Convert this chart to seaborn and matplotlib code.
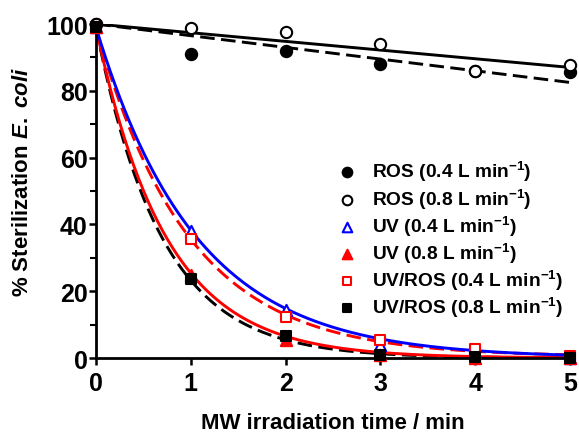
import numpy as np
import pandas as pd
import matplotlib
matplotlib.use("Agg")
import matplotlib.pyplot as plt
import seaborn as sns

# data
time = [0, 1, 2, 3, 4, 5]
ros_04 = [100, 91, 92, 88, 86, 85.5]
ros_08 = [100, 98.8, 97.5, 94, 86, 87.6]
uv_04 = [99, 38, 14.3, 4, 1.5, 0]
uv_08 = [99, 24.8, 5.5, 0.8, 0, 0]
uvros_04 = [99, 35.5, 12.3, 5.5, 2.6, 0.5]
uvros_08 = [99, 23.8, 6.5, 1.0, 0.3, 0]

# fitted curve parameters
ros_fit_04 = (100, -3.5)          # intercept, slope (dashed)
ros_fit_08 = (100, -2.6)          # intercept, slope (solid)
uv_fit_04 = (99, 0.95, 0.0)       # A, k, offset
uv_fit_08 = (99, 1.36, 0.0)
uvros_fit_04 = (98.5, 1.03, 0.4)
uvros_fit_08 = (99, 1.45, 0.0)

sns.set_style("ticks")
plt.rcParams["font.family"] = ["Liberation Sans", "DejaVu Sans"]
plt.rcParams["font.weight"] = "bold"
plt.rcParams["mathtext.fontset"] = "custom"
plt.rcParams["mathtext.rm"] = "Liberation Sans:bold"
plt.rcParams["mathtext.bf"] = "Liberation Sans:bold"
plt.rcParams["mathtext.it"] = "Liberation Sans:bold:italic"
for k in ["text.color", "axes.labelcolor", "xtick.color", "ytick.color",
          "axes.edgecolor"]:
    plt.rcParams[k] = "black"

fig = plt.figure(figsize=(5.79, 4.35), dpi=100)
ax = fig.add_axes([0.1658, 0.1747, 0.8187, 0.7678])

t = np.linspace(0, 5, 200)
lw = 2.1


def lin(p):
    return p[0] + p[1] * t


def expo(p):
    return p[0] * np.exp(-p[1] * t) + p[2]


dash = (0, (5, 2.2))
fits = [
    (expo(uvros_fit_08), "black", dash),
    (expo(uvros_fit_04), "red", dash),
    (expo(uv_fit_08), "red", "-"),
    (expo(uv_fit_04), "blue", "-"),
    (lin(ros_fit_04), "black", dash),
    (lin(ros_fit_08), "black", "-"),
]
for y, c, ls in fits:
    sns.lineplot(x=t, y=y, color=c, linestyle=ls, linewidth=lw, ax=ax)

series = [
    (ros_04, "ROS (0.4 L min$^{-1}$)", "o", "black", "black"),
    (ros_08, "ROS (0.8 L min$^{-1}$)", "o", "white", "black"),
    (uv_04, "UV (0.4 L min$^{-1}$)", "^", "white", "blue"),
    (uv_08, "UV (0.8 L min$^{-1}$)", "^", "red", "red"),
    (uvros_04, "UV/ROS (0.4 L min$^{-1}$)", "s", "white", "red"),
    (uvros_08, "UV/ROS (0.8 L min$^{-1}$)", "s", "black", "black"),
]
for vals, lab, m, fc, ec in series:
    sns.scatterplot(x=time, y=vals, marker=m, s=66 if m != "s" else 50,
                    color=fc, edgecolor=ec, linewidth=1.5, label=lab,
                    ax=ax, clip_on=False, zorder=5)

ax.set_xlim(0, 5)
ax.set_ylim(0, 100)
ax.set_xticks([0, 1, 2, 3, 4, 5])
ax.set_yticks([0, 20, 40, 60, 80, 100])
ax.set_yticks([10, 30, 50, 70, 90], minor=True)
ax.tick_params(axis="both", which="major", labelsize=18, width=1.8,
               length=5, direction="out")
ax.tick_params(axis="x", which="major", pad=4)
ax.tick_params(axis="y", which="major", pad=1)
ax.tick_params(axis="y", which="minor", width=1.5, length=4)
for lbl in ax.get_xticklabels() + ax.get_yticklabels():
    lbl.set_fontweight("bold")
sns.despine(ax=ax)
for s in ["left", "bottom"]:
    ax.spines[s].set_linewidth(2)

ax.set_xlabel("MW irradiation time / min", fontsize=16, fontweight="bold")
ax.set_ylabel(r"% Sterilization $\it{E.}$ $\it{coli}$", fontsize=16,
              fontweight="bold")
ax.xaxis.set_label_coords(0.5, -0.163)
ax.yaxis.set_label_coords(-0.133, 0.53)

leg = ax.legend(loc="upper left", bbox_to_anchor=(0.51, 0.595), frameon=False,
                prop={"size": 13.8, "weight": "bold"}, handlelength=1.0,
                handletextpad=0.8, labelspacing=0.16, borderaxespad=0,
                borderpad=0, markerscale=0.85)

fig.savefig("out.png", dpi=100)
